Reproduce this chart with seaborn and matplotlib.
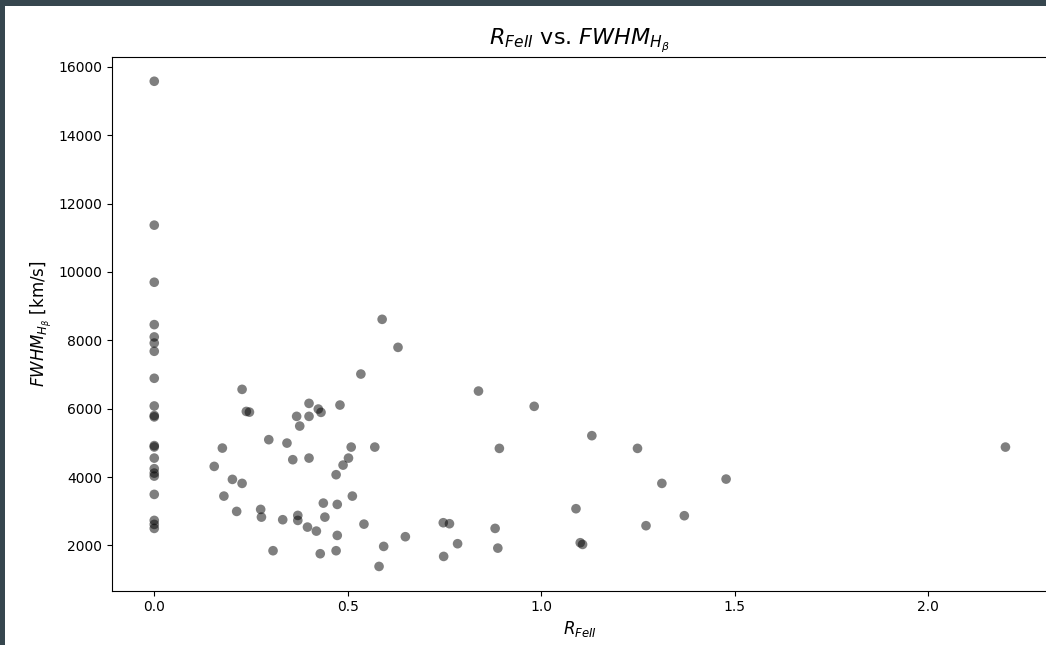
import matplotlib
matplotlib.use("Agg")
import matplotlib.pyplot as plt
import matplotlib.patches as mpatches
import seaborn as sns
import pandas as pd

# R_FeII values (x) and FWHM_Hbeta values (y, km/s)
r_feii = [
    0.0, 0.0, 0.0, 0.0, 0.0, 0.0, 0.0, 0.0, 0.0, 0.0, 0.0,
    0.0, 0.0, 0.0, 0.0, 0.0, 0.0, 0.0, 0.0, 0.0, 0.0,
    0.227, 0.238, 0.246, 0.296, 0.176, 0.155, 0.202, 0.227, 0.180, 0.213,
    0.275, 0.277, 0.589, 0.630, 0.534, 0.400, 0.424, 0.431, 0.480, 0.368,
    0.400, 0.376, 0.343, 0.358, 0.400, 0.509, 0.570, 0.502, 0.488, 0.470,
    0.512, 0.437, 0.473, 0.332, 0.371, 0.371, 0.441, 0.396, 0.419, 0.542,
    0.473, 0.307, 0.429, 0.470, 0.593, 0.581, 0.838, 0.982, 0.892, 0.747,
    0.763, 0.649, 0.784, 0.748, 0.881, 0.888, 1.131, 1.249, 1.312, 1.478,
    1.090, 1.370, 1.271, 1.101, 1.107, 2.200,
]
fwhm_hb = [
    15580, 11370, 9700, 8460, 8100, 7920, 7680, 6890, 6080, 5760, 5800,
    4880, 4920, 4555, 4245, 4116, 4028, 3493, 2732, 2615, 2498,
    6566, 5920, 5900, 5094, 4848, 4312, 3932, 3815, 3443, 2995,
    3054, 2828, 8615, 7795, 7014, 6156, 5990, 5893, 6107, 5776,
    5776, 5492, 4994, 4508, 4555, 4877, 4877, 4555, 4350, 4069,
    3443, 3238, 3200, 2752, 2878, 2732, 2828, 2536, 2419, 2623,
    2293, 1845, 1757, 1845, 1971, 1385, 6516, 6069, 4839, 2664,
    2635, 2255, 2050, 1678, 2498, 1921, 5211, 4839, 3815, 3941,
    3074, 2869, 2577, 2079, 2029, 4877,
]

df = pd.DataFrame({"R_FeII": r_feii, "FWHM": fwhm_hb})

W, H = 1046, 645
fig = plt.figure(figsize=(W / 100, H / 100), dpi=100)
fig.patch.set_facecolor("#36464e")
# white canvas inside the dark screenshot frame
fig.patches.append(mpatches.Rectangle((5 / W, 0), 1, 1 - 6 / H,
                                      transform=fig.transFigure,
                                      facecolor="white", edgecolor="none",
                                      zorder=-10))

ax = fig.add_axes([111.7 / W, 1 - 590.7 / H, (1048 - 111.7) / W, (590.7 - 57) / H])

sns.scatterplot(data=df, x="R_FeII", y="FWHM", ax=ax, color="black",
                alpha=0.5, s=48, edgecolor="none", linewidth=0)

ax.set_title(r"$R_{FeII}$ vs. $FWHM_{H_\beta}$", fontsize=16, pad=9)
ax.set_xlabel(r"$R_{FeII}$", fontsize=12, labelpad=3)
ax.set_ylabel(r"$FWHM_{H_\beta}$ [km/s]", fontsize=12, labelpad=3)
ax.set_xticks([0.0, 0.5, 1.0, 1.5, 2.0])
ax.set_yticks(list(range(2000, 16001, 2000)))
ax.tick_params(labelsize=10)

fig.savefig("out.png", dpi=100, facecolor=fig.get_facecolor())
